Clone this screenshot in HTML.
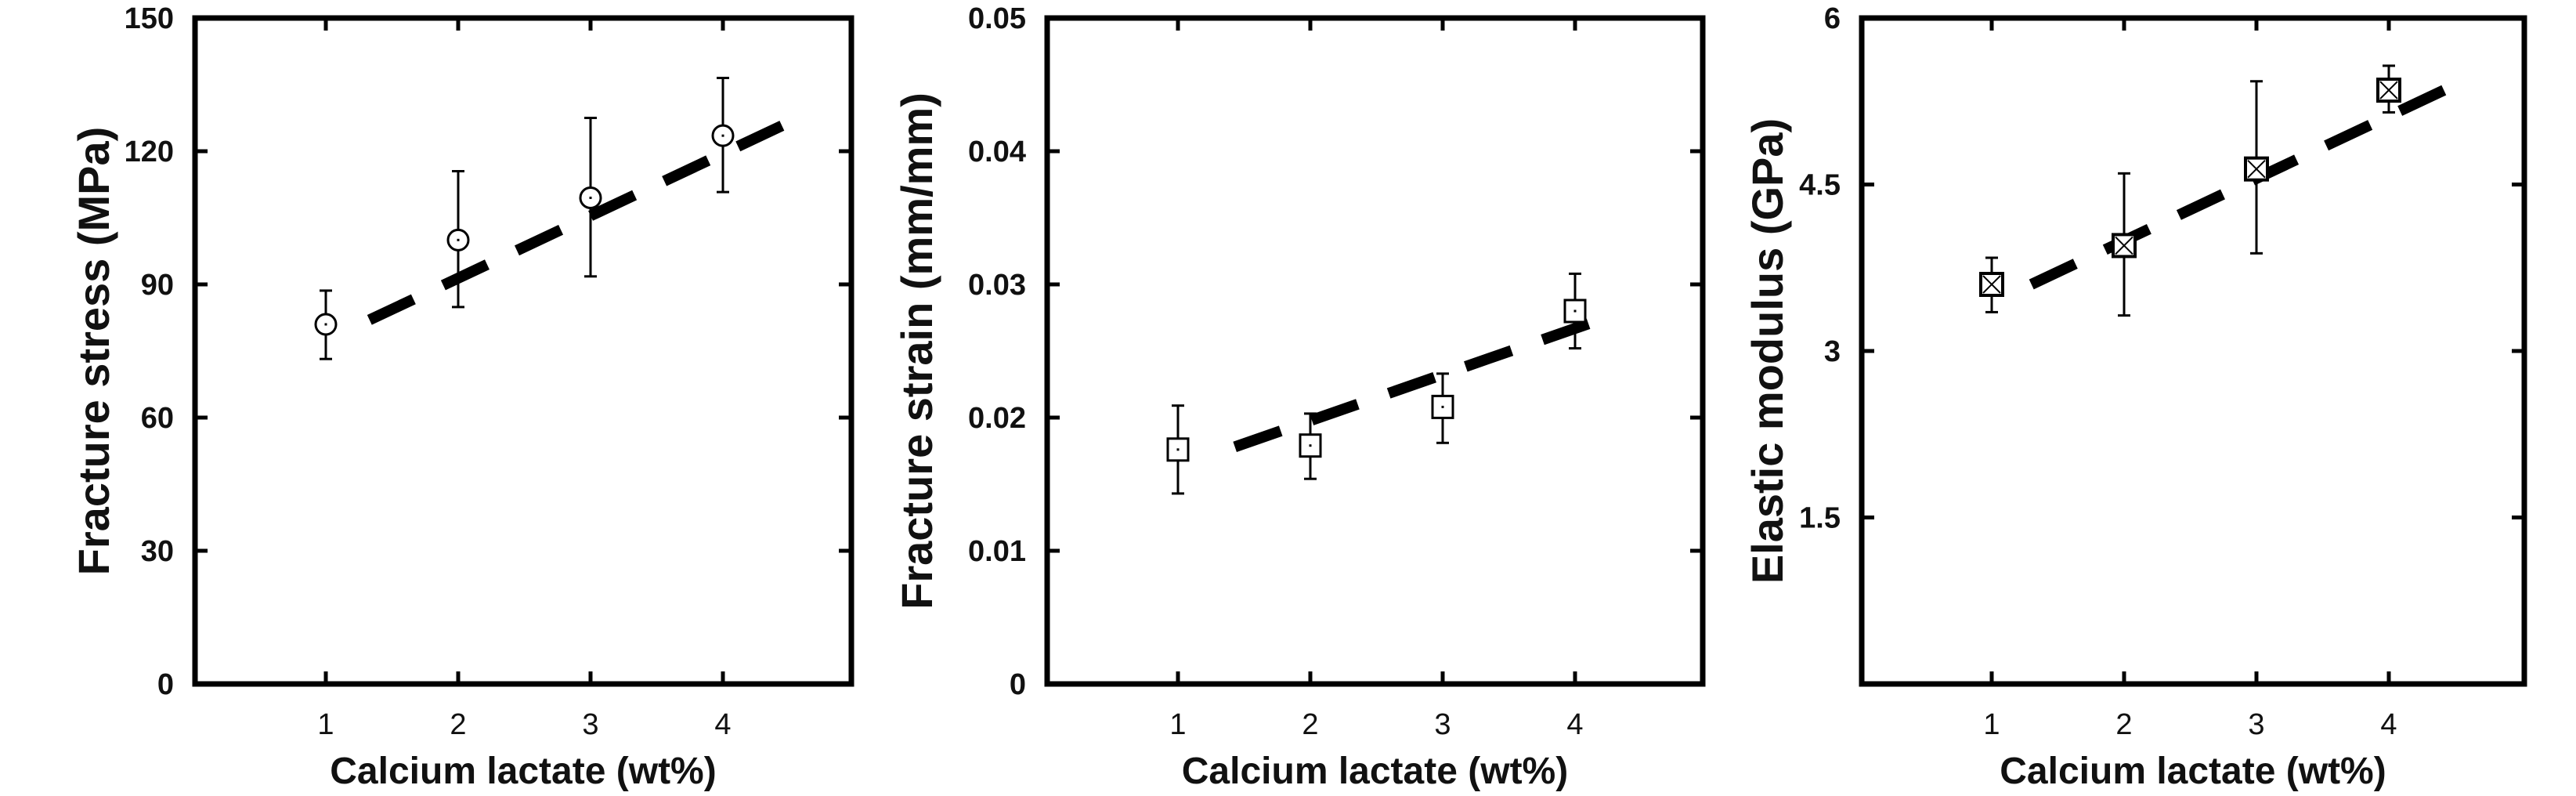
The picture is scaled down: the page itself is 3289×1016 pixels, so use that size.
<!DOCTYPE html>
<html><head><meta charset="utf-8"><style>
html,body{margin:0;padding:0;background:#fff;}
svg{display:block;font-family:"Liberation Sans",Arial,sans-serif;}
</style></head><body>
<svg id="chart" width="3289" height="1016" viewBox="0 0 3289 1016" xmlns="http://www.w3.org/2000/svg"></svg>
<script>
const categories = [1, 2, 3, 4];
const xTickLabels = ["1", "2", "3", "4"];
const stressValues = [81, 100, 109.5, 123.5];
const stressErrHi = [88.6, 115.5, 127.5, 136.5];
const stressErrLo = [73.2, 84.9, 91.8, 110.8];
const stressTrendX = [1.33, 4.5];
const stressTrendY = [82, 126.5];
const stressTicks = [0, 30, 60, 90, 120, 150];
const stressTickLabels = ["0", "30", "60", "90", "120", "150"];
const strainValues = [0.0176, 0.0179, 0.0208, 0.028];
const strainErrHi = [0.0209, 0.0203, 0.0233, 0.0308];
const strainErrLo = [0.0143, 0.0154, 0.0181, 0.0252];
const strainTrendX = [1.43, 4.32];
const strainTrendY = [0.0178, 0.0278];
const strainTicks = [0, 0.01, 0.02, 0.03, 0.04, 0.05];
const strainTickLabels = ["0", "0.01", "0.02", "0.03", "0.04", "0.05"];
const modulusValues = [3.6, 3.95, 4.64, 5.35];
const modulusErrHi = [3.84, 4.6, 5.43, 5.57];
const modulusErrLo = [3.35, 3.32, 3.88, 5.15];
const modulusTrendX = [1.3, 4.47];
const modulusTrendY = [3.6, 5.38];
const modulusTicks = [0, 1.5, 3, 4.5, 6];
const modulusTickLabels = ["", "1.5", "3", "4.5", "6"];

const NS = "http://www.w3.org/2000/svg";
const svg = document.getElementById('chart');
function mk(tag, attrs, parent){
  const e = document.createElementNS(NS, tag);
  for (const k in attrs) e.setAttribute(k, attrs[k]);
  (parent||svg).appendChild(e);
  return e;
}
const TOP = 23, BOT = 873;
const panels = [
  {name:'stress', left:249, right:1087, x0:247, ymax:150, vals:stressValues, hi:stressErrHi, lo:stressErrLo, tx:stressTrendX, ty:stressTrendY, ticks:stressTicks, tl:stressTickLabels, title:'Fracture stress (MPa)', titleX:120, marker:'circle'},
  {name:'strain', left:1337, right:2174, x0:1335, ymax:0.05, vals:strainValues, hi:strainErrHi, lo:strainErrLo, tx:strainTrendX, ty:strainTrendY, ticks:strainTicks, tl:strainTickLabels, title:'Fracture strain (mm/mm)', titleX:1171, marker:'square'},
  {name:'modulus', left:2377, right:3223, x0:2374, ymax:6, vals:modulusValues, hi:modulusErrHi, lo:modulusErrLo, tx:modulusTrendX, ty:modulusTrendY, ticks:modulusTicks, tl:modulusTickLabels, title:'Elastic modulus (GPa)', titleX:2257, marker:'xsquare'}
];
panels.forEach(p => {
  const g = mk('g', {});
  
  
  const xs = v => p.x0 + v * 169;
  const ys = v => BOT - v / p.ymax * (BOT - TOP);
  categories.forEach((c, i) => {
    const x = xs(c);
    const t1 = mk('line', {x1:x, x2:x, y1:BOT, y2:BOT-16, stroke:'#000', 'stroke-width':5}, g);
    
    
    mk('line', {x1:x, x2:x, y1:TOP, y2:TOP+16, stroke:'#000', 'stroke-width':5}, g);
    const tl = mk('text', {x:x, y:937, 'font-size':38, 'text-anchor':'middle', fill:'#111'}, g);
    tl.textContent = xTickLabels[i];
    
    
  });
  p.ticks.forEach((v, i) => {
    const y = ys(v);
    if (v > 0 && v < p.ymax) {
      const t = mk('line', {x1:p.left, x2:p.left+16, y1:y, y2:y, stroke:'#000', 'stroke-width':5}, g);
      
      
      mk('line', {x1:p.right, x2:p.right-16, y1:y, y2:y, stroke:'#000', 'stroke-width':5}, g);
    }
    if (p.tl[i] !== "") {
      const tl = mk('text', {x:p.left-27, y:y+13, 'font-size':38, 'font-weight':'bold', 'text-anchor':'end', fill:'#111'}, g);
      tl.textContent = p.tl[i];
      
      
    }
  });
  const frame = mk('rect', {x:p.left, y:TOP, width:p.right-p.left, height:BOT-TOP, fill:'none', stroke:'#000', 'stroke-width':7}, g);
  
  
  const xt = mk('text', {x:(p.left+p.right)/2, y:1000, 'font-size':48, 'font-weight':'bold', 'text-anchor':'middle', fill:'#111'}, g);
  xt.textContent = 'Calcium lactate (wt%)';
  
  
  const yt = mk('text', {x:0, y:0, 'font-size':56, 'font-weight':'bold', 'text-anchor':'middle', fill:'#111', transform:`translate(${p.titleX+19},448) rotate(-90)`}, g);
  yt.textContent = p.title;
  
  
  categories.forEach((c, i) => {
    const x = xs(c);
    const eb = mk('g', {stroke:'#000', 'stroke-width':3}, g);
    
    
    mk('line', {x1:x, x2:x, y1:ys(p.hi[i]), y2:ys(p.lo[i])}, eb);
    mk('line', {x1:x-8, x2:x+8, y1:ys(p.hi[i]), y2:ys(p.hi[i])}, eb);
    mk('line', {x1:x-8, x2:x+8, y1:ys(p.lo[i]), y2:ys(p.lo[i])}, eb);
  });
  const tr = mk('line', {x1:xs(p.tx[0]), y1:ys(p.ty[0]), x2:xs(p.tx[1]), y2:ys(p.ty[1]), stroke:'#000', 'stroke-width':14, 'stroke-dasharray':'62 42'}, g);
  
  
  categories.forEach((c, i) => {
    const x = xs(c), y = ys(p.vals[i]);
    const m = mk('g', {}, g);
    
    
    if (p.marker === 'circle') {
      mk('circle', {cx:x, cy:y, r:13, fill:'#fff', stroke:'#000', 'stroke-width':3}, m);
      mk('rect', {x:x-1.5, y:y-1.5, width:3, height:3, fill:'#000'}, m);
    } else if (p.marker === 'square') {
      mk('rect', {x:x-13, y:y-14, width:26, height:28, fill:'#fff', stroke:'#000', 'stroke-width':3}, m);
      mk('rect', {x:x-1.5, y:y-1.5, width:3, height:3, fill:'#000'}, m);
    } else {
      mk('rect', {x:x-14, y:y-14, width:28, height:28, fill:'#fff', stroke:'#000', 'stroke-width':4}, m);
      mk('line', {x1:x-11, y1:y-11, x2:x+11, y2:y+11, stroke:'#000', 'stroke-width':2}, m);
      mk('line', {x1:x+11, y1:y-11, x2:x-11, y2:y+11, stroke:'#000', 'stroke-width':2}, m);
    }
  });
});
</script>
</body></html>
